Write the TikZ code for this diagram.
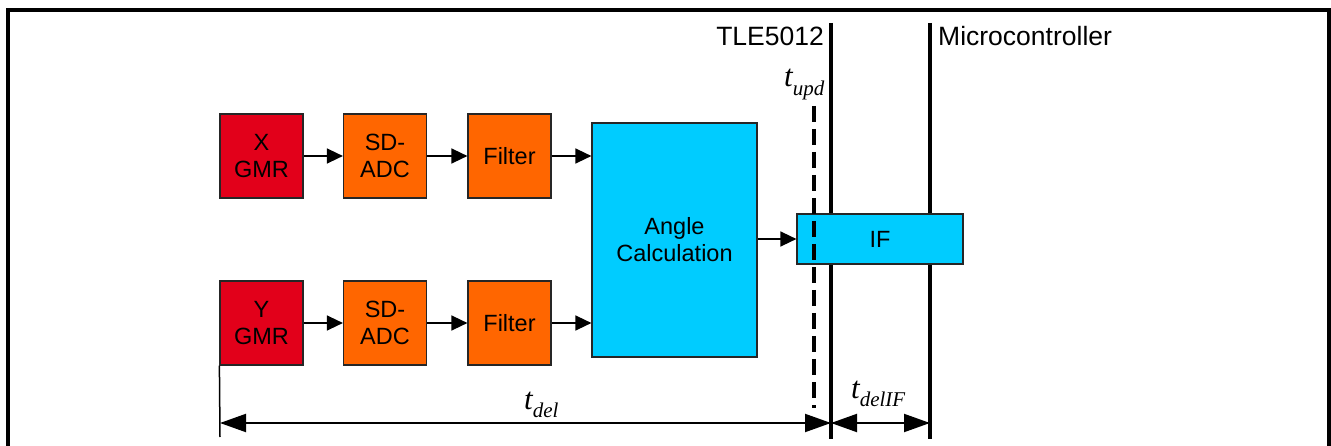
\documentclass[tikz,border=0pt]{standalone}
\usepackage{fontspec}
\setmainfont{Liberation Sans}
\newfontfamily\tfont{Liberation Serif}
\usetikzlibrary{arrows.meta}
\definecolor{gmrred}{HTML}{E2001A}
\definecolor{adcorange}{HTML}{FF6600}
\definecolor{calccyan}{HTML}{00CCFF}
\newcommand{\tlab}[1]{{\tfont\itshape\fontsize{31}{31}\selectfont t\raisebox{-9pt}{\fontsize{21}{21}\selectfont #1}}}
\begin{document}
\begin{tikzpicture}[x=1pt,y=-1pt,
  blk/.style={draw=black!85,line width=1.2pt,inner sep=0pt,align=center,
    font=\fontsize{23.5}{27}\selectfont,minimum width=83pt,minimum height=84pt},
  gmr/.style={blk,fill=gmrred},
  proc/.style={blk,fill=adcorange},
  calc/.style={blk,fill=calccyan},
  conn/.style={line width=1.5pt,-{Triangle[length=16pt,width=15pt]}},
  dim/.style={line width=2pt,{Triangle[length=26pt,width=18pt]}-{Triangle[length=26pt,width=18pt]}},
  sep/.style={line width=3.5pt},
  lbl/.style={inner sep=0pt,font=\fontsize{26.5}{26.5}\selectfont}]
\useasboundingbox (0,0) rectangle (1331,446);
% frame
\draw[line width=3.5pt] (8,450) -- (8,10) -- (1329,10) -- (1329,450);
% blocks
\node[gmr]  (xgmr) at (261.5,156) {X\\GMR};
\node[proc] (xadc) at (385,156) {SD-\\ADC};
\node[proc] (xflt) at (509.5,156) {Filter};
\node[gmr]  (ygmr) at (261.5,323) {Y\\GMR};
\node[proc] (yadc) at (385,323) {SD-\\ADC};
\node[proc] (yflt) at (509.5,323) {Filter};
\node[calc,minimum width=165pt,minimum height=234pt] (angle) at (674.5,240) {Angle\\Calculation};
% connectors
\draw[conn] (xgmr.east) -- (xadc.west);
\draw[conn] (xadc.east) -- (xflt.west);
\draw[conn] (xflt.east) -- (xflt.east -| angle.west);
\draw[conn] (ygmr.east) -- (yadc.west);
\draw[conn] (yadc.east) -- (yflt.west);
\draw[conn] (yflt.east) -- (yflt.east -| angle.west);
% separators
\coordinate (tleTop) at (831,23);
\coordinate (tleBot) at (831,439);
\coordinate (mcTop) at (930,23);
\coordinate (mcBot) at (930,439);
\draw[sep] (tleTop) -- (tleBot);
\draw[sep] (mcTop) -- (mcBot);
\node[calc,minimum width=166pt,minimum height=50pt] (if) at (880,239) {IF};
\draw[conn] (angle.east |- if.west) -- (if.west);
% update line
\coordinate (updTop) at (814,106);
\coordinate (updBot) at (814,408);
\draw[line width=4pt,dash pattern=on 16pt off 7pt] (updTop) -- (updBot);
% labels
\node[lbl,anchor=base east] (tle) at (824,46) {TLE5012};
\node[lbl,anchor=base west] (mc) at (938,46) {Microcontroller};
\node[inner sep=0pt,anchor=base west] (tupd) at (784,87) {\tlab{upd}};
% dimensions
\coordinate (dl) at (220,423);
\coordinate (dlb) at (220,437);
\draw[line width=1.5pt] (ygmr.south west) -- (dlb);
\draw[dim] (dl) -- (tleBot |- dl);
\draw[dim] (tleBot |- dl) -- (mcBot |- dl);
\node[inner sep=0pt,anchor=base west] (tdel) at (524,409) {\tlab{del}};
\node[inner sep=0pt,anchor=base west] (tdelif) at (851,398) {\tlab{delIF}};
\end{tikzpicture}
\end{document}
